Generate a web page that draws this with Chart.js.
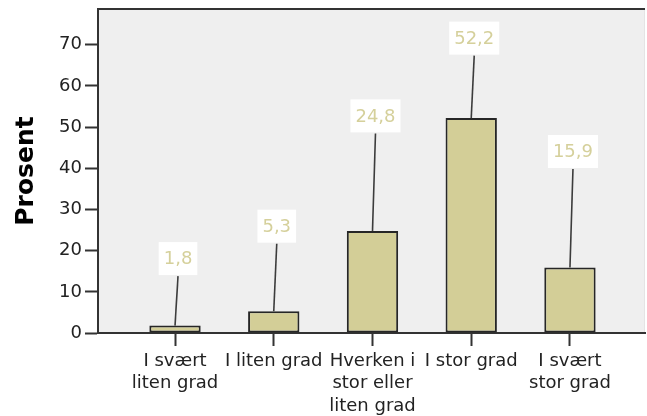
<!DOCTYPE html>
<html>
<head>
<meta charset="utf-8">
<script src="https://cdn.jsdelivr.net/npm/chart.js@4/dist/chart.umd.min.js"></script>
<style>
  html, body { margin: 0; padding: 0; background: #ffffff; }
  #wrap { width: 647px; height: 416px; position: relative; }
</style>
</head>
<body>
<div id="wrap"><canvas id="chart" width="647" height="416"></canvas></div>
<script>
// Response categories (x axis), one array of lines per tick label
const categories = [
  ['I svært', 'liten grad'],
  ['I liten grad'],
  ['Hverken i', 'stor eller', 'liten grad'],
  ['I stor grad'],
  ['I svært', 'stor grad']
];
// Share of respondents, percent
const percentValues = [1.8, 5.3, 24.8, 52.2, 15.9];
// Y axis tick values
const yTickValues = [0, 10, 20, 30, 40, 50, 60, 70];

const BAR_FILL = '#d3ce97';
const FRAME = '#333333';
const FONT = '"DejaVu Sans", Verdana, sans-serif';

// Norwegian decimal comma
const fmt = v => v.toFixed(1).replace('.', ',');

// Plot background, plus the dark top edge of the frame
const plotFrame = {
  id: 'plotFrame',
  beforeDraw(chart) {
    const { ctx, chartArea: a } = chart;
    ctx.save();
    ctx.fillStyle = '#efefef';
    ctx.fillRect(a.left, a.top, a.right - a.left, a.bottom - a.top);
    ctx.strokeStyle = '#e4e4e4';
    ctx.lineWidth = 1;
    ctx.beginPath();
    ctx.moveTo(a.right - 0.5, a.top);
    ctx.lineTo(a.right - 0.5, a.bottom);
    ctx.stroke();
    ctx.strokeStyle = FRAME;
    ctx.lineWidth = 2;
    ctx.beginPath();
    ctx.moveTo(a.left - 1, a.top);
    ctx.lineTo(a.right, a.top);
    ctx.stroke();
    ctx.restore();
  }
};

// Value callouts: white box with the value, joined to the bar top by a line
const callouts = {
  id: 'callouts',
  afterDatasetsDraw(chart, args, opts) {
    const { ctx } = chart;
    const meta = chart.getDatasetMeta(0);
    ctx.save();
    ctx.font = '18px ' + FONT;
    ctx.textAlign = 'center';
    ctx.textBaseline = 'middle';
    meta.data.forEach((bar, i) => {
      const value = chart.data.datasets[0].data[i].y;
      const text = fmt(value);
      const cx = bar.x + opts.shiftX;
      const cy = bar.y - opts.rise[i];
      const w = ctx.measureText(text).width + 10;
      const h = 33;
      ctx.strokeStyle = '#3c3c3c';
      ctx.lineWidth = 1.6;
      ctx.beginPath();
      ctx.moveTo(cx, cy + h / 2 + 1);
      ctx.lineTo(bar.x, bar.y);
      ctx.stroke();
      ctx.fillStyle = '#ffffff';
      ctx.fillRect(cx - w / 2, cy - h / 2, w, h);
      ctx.fillStyle = '#d5d09b';
      ctx.fillText(text, cx, cy + 1);
    });
    ctx.restore();
  }
};

new Chart(document.getElementById('chart'), {
  type: 'bar',
  data: {
    datasets: [{
      data: percentValues.map((v, i) => ({ x: i, y: v })),
      backgroundColor: BAR_FILL,
      borderColor: '#262626',
      borderWidth: 2,
      borderSkipped: false,
      categoryPercentage: 1,
      barPercentage: 0.52
    }]
  },
  options: {
    responsive: false,
    animation: false,
    events: [],
    layout: { padding: { top: 9, right: 2, left: 0, bottom: 0 } },
    plugins: {
      legend: { display: false },
      tooltip: { enabled: false },
      callouts: { shiftX: 3, rise: [67, 85, 115, 80, 116] }
    },
    scales: {
      x: {
        type: 'linear',
        offset: false,
        min: -0.78,
        max: 4.76,
        afterBuildTicks: s => { s.ticks = categories.map((_, i) => ({ value: i })); },
        afterFit: s => { s.height = 83; s.paddingLeft = 0; s.paddingRight = 0; },
        border: { display: true, color: FRAME, width: 2 },
        grid: { display: true, offset: false, drawOnChartArea: false, drawTicks: true, tickLength: 13, tickColor: FRAME, tickWidth: 2 },
        ticks: {
          autoSkip: false,
          maxRotation: 0,
          padding: 4,
          color: '#222222',
          font: { family: FONT, size: 18, lineHeight: 1.25 },
          callback: v => categories[v]
        }
      },
      y: {
        min: 0,
        max: 78.7,
        afterBuildTicks: s => { s.ticks = yTickValues.map(v => ({ value: v })); },
        afterFit: s => { s.width = 98; s.paddingTop = 0; s.paddingBottom = 0; },
        border: { display: true, color: FRAME, width: 2 },
        grid: { display: true, drawOnChartArea: false, drawTicks: true, tickLength: 13, tickColor: FRAME, tickWidth: 2 },
        ticks: {
          padding: 3,
          color: '#222222',
          font: { family: FONT, size: 18 }
        },
        title: {
          display: true,
          text: 'Prosent',
          color: '#000000',
          padding: { top: 11, bottom: 0 },
          font: { family: FONT, size: 25, weight: 'bold' }
        }
      }
    }
  },
  plugins: [plotFrame, callouts]
});
</script>
</body>
</html>
